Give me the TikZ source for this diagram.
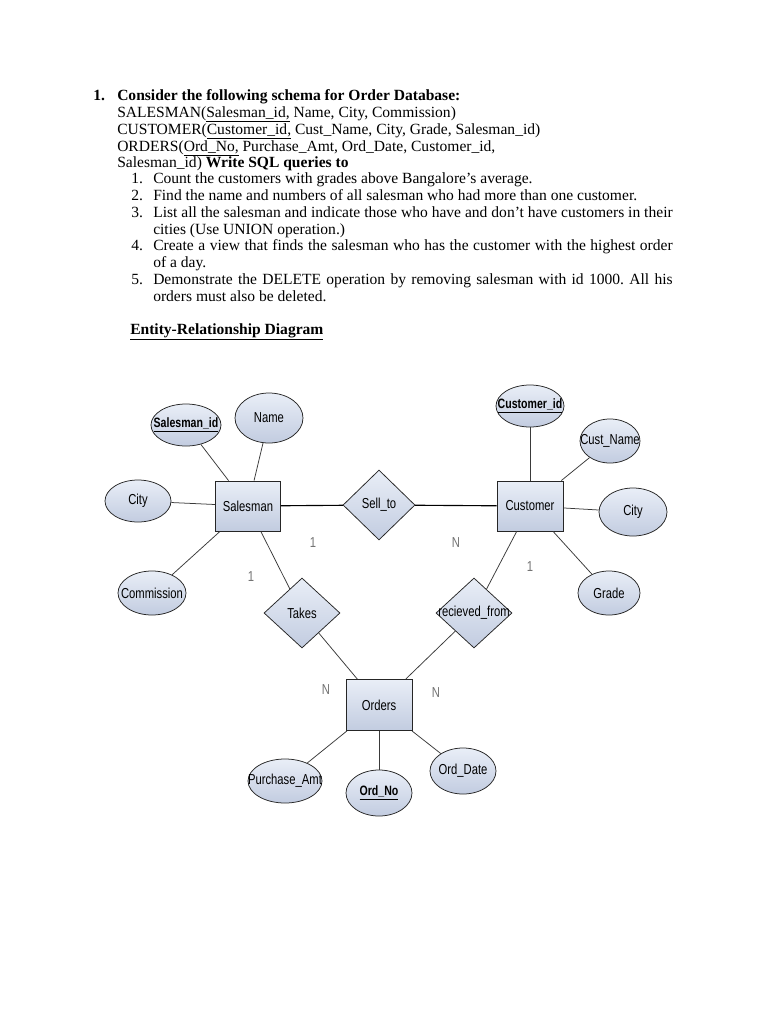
\documentclass[tikz,border=0pt]{standalone}
\usepackage{fontspec}
\setmainfont{Liberation Serif}
\newfontfamily\ernarrow[FakeStretch=0.78]{Liberation Sans}
\usetikzlibrary{shapes.geometric}
\frenchspacing
\newcommand{\pxu}{0.797pt}
\newcommand{\ertext}[1]{\makebox[0pt]{#1}}
\newcommand{\erkey}[1]{\makebox[0pt]{\fontsize{10.8}{13}\selectfont\bfseries\underline{#1}}}
\definecolor{erlight}{HTML}{E9EEF7}
\definecolor{erdark}{HTML}{C2CCE0}
\definecolor{erline}{HTML}{3A3A3A}
\begin{document}
\begin{tikzpicture}[x=\pxu,y=-\pxu,
    txt/.style={anchor=base west,inner sep=0pt,font=\fontsize{12.4}{14}\selectfont},
    dims/.style 2 args={minimum width=#1*\pxu,minimum height=#2*\pxu},
    attr/.style={ellipse,draw=black!85,line width=0.6pt,top color=erlight,bottom color=erdark,inner sep=0pt,font=\ernarrow\fontsize{11.5}{13}\selectfont},
    entity/.style={rectangle,draw=black!85,line width=0.7pt,top color=erlight,bottom color=erdark,inner sep=0pt,font=\ernarrow\fontsize{11.5}{13}\selectfont},
    rel/.style={diamond,draw=black!85,line width=0.6pt,top color=erlight,bottom color=erdark,inner sep=0pt,font=\ernarrow\fontsize{11.5}{13}\selectfont},
    link/.style={draw=erline,line width=0.6pt},
    card/.style={text=black!55,font=\ernarrow\fontsize{11.5}{13}\selectfont}]
  \useasboundingbox[fill=white] (0,0) rectangle (768,1024);
  % --- Question text ---
  \node[txt] (q1) at (93,100) {\textbf{1.}};
  \node[txt] (q1t) at (117,100) {\textbf{Consider the following schema for Order Database:}};
  \node[txt] (s1) at (117,117) {SALESMAN(\underline{Salesman\_id,} Name, City, Commission)};
  \node[txt] (s2) at (117,134) {CUSTOMER(\underline{Customer\_id,} Cust\_Name, City, Grade, Salesman\_id)};
  \node[txt] (s3) at (117,151) {ORDERS(\underline{Ord\_No,} Purchase\_Amt, Ord\_Date, Customer\_id,};
  \node[txt] (s4) at (117,167) {Salesman\_id) \textbf{Write SQL queries to}};
  % numbered queries
  \foreach \n/\yy in {1/183,2/200,3/217,4/250,5/284}
    \node[txt] (n\n) at (131,\yy) {\n.};
  \node[txt] (e1) at (153,183) {Count the customers with grades above Bangalore's average.};
  \node[txt] (e2) at (153,200) {Find the name and numbers of all salesman who had more than one customer.};
  \node[txt] (e3) at (153,217) {\makebox[414pt][s]{List all the salesman and indicate those who have and don't have customers in their}};
  \node[txt] (e3b) at (153,234) {cities (Use UNION operation.)};
  \node[txt] (e4) at (153,250) {\makebox[414pt][s]{Create a view that finds the salesman who has the customer with the highest order}};
  \node[txt] (e4b) at (153,267) {of a day.};
  \node[txt] (e5) at (153,284) {\makebox[414pt][s]{Demonstrate the DELETE operation by removing salesman with id 1000. All his}};
  \node[txt] (e5b) at (153,301) {orders must also be deleted.};
  \node[txt] (head) at (130,334) {\textbf{\underline{Entity-Relationship Diagram}}};
  % --- Salesman side ---
  \node[attr,dims={70}{42}] (sid) at (186,425) {\erkey{Salesman\_id}};
  \node[attr,dims={68}{50}] (sname) at (269,418) {\ertext{Name}};
  \node[attr,dims={66}{42}] (scity) at (138,501) {\ertext{City}};
  \node[entity,dims={65}{50}] (salesman) at (248,506) {Salesman};
  \node[attr,dims={68}{44}] (comm) at (152,593) {\ertext{Commission}};
  % --- Relationships ---
  \node[rel,dims={72}{70}] (sell) at (379,505) {\ertext{Sell\_to}};
  \node[rel,dims={76}{70}] (takes) at (302,613) {\ertext{Takes}};
  \node[rel,dims={76}{70}] (recv) at (474,613) {\ertext{recieved\_from}};
  % --- Customer side ---
  \node[entity,dims={66}{50}] (customer) at (530,506) {Customer};
  \node[attr,dims={68}{42}] (cid) at (530,406) {\erkey{Customer\_id}};
  \node[attr,dims={60}{44}] (cname) at (610,441) {\ertext{Cust\_Name}};
  \node[attr,dims={68}{48}] (ccity) at (633,512) {\ertext{City}};
  \node[attr,dims={62}{44}] (grade) at (609,593) {\ertext{Grade}};
  % --- Orders ---
  \node[entity,dims={66}{51}] (orders) at (379,705) {Orders};
  \node[attr,dims={74}{44}] (pamt) at (285,781) {\ertext{Purchase\_Amt}};
  \node[attr,dims={66}{46}] (ordno) at (379,793) {\erkey{Ord\_No}};
  \node[attr,dims={66}{46}] (odate) at (463,771) {\ertext{Ord\_Date}};
  % Connectors
  \draw[link] (sid) -- (salesman);
  \draw[link] (sname) -- (salesman);
  \draw[link] (scity) -- (salesman);
  \draw[link] (comm) -- (salesman);
  \draw[link,line width=0.9pt,draw=black] (salesman) -- (sell);
  \draw[link,line width=0.9pt,draw=black] (sell) -- (customer);
  \draw[link] (salesman) -- (takes);
  \draw[link] (takes) -- (orders);
  \draw[link] (customer) -- (recv);
  \draw[link] (recv) -- (orders);
  \draw[link] (cid) -- (customer);
  \draw[link] (cname) -- (customer);
  \draw[link] (ccity) -- (customer);
  \draw[link] (grade) -- (customer);
  \draw[link] (orders) -- (pamt);
  \draw[link] (orders) -- (ordno);
  \draw[link] (orders) -- (odate);
  % Cardinalities
  \node[card] (k1) at (313,543) {1};
  \node[card] (k2) at (456,543) {N};
  \node[card] (k3) at (251,577) {1};
  \node[card] (k4) at (530,567) {1};
  \node[card] (k5) at (326,690) {N};
  \node[card] (k6) at (436,693) {N};
\end{tikzpicture}
\end{document}
